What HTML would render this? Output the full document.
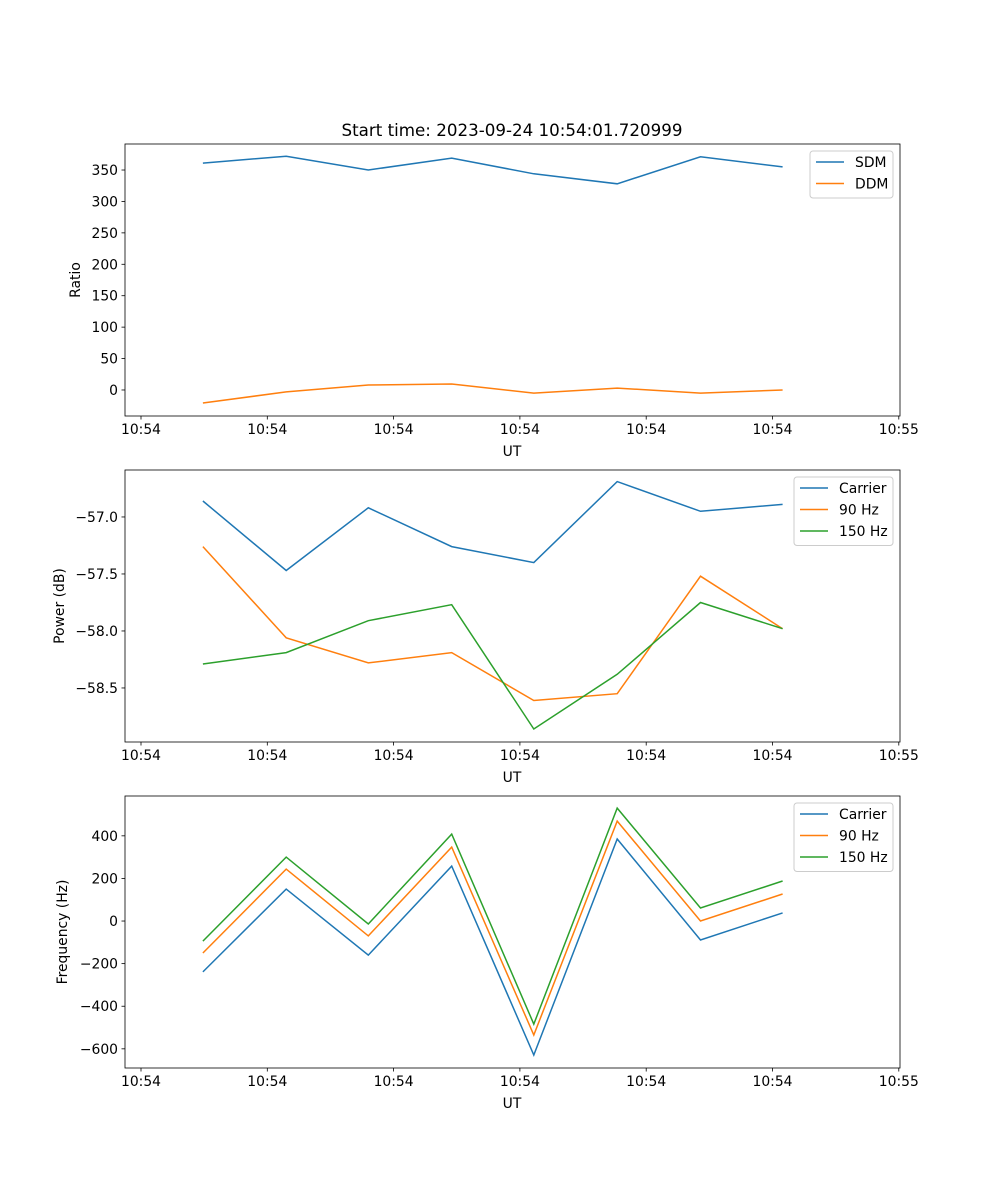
<!DOCTYPE html>
<html><head><meta charset="utf-8"><style>body{margin:0;background:#fff}svg{display:block;font-family:"DejaVu Sans","Liberation Sans",sans-serif}</style></head>
<body>
<svg id="fig" width="1000" height="1200" xmlns="http://www.w3.org/2000/svg"></svg>
<script>
const times = [0.49, 1.15, 1.80, 2.46, 3.11, 3.77, 4.43, 5.08];
const xTickVals = [0, 1, 2, 3, 4, 5, 6];
const xTickLabels = ["10:54","10:54","10:54","10:54","10:54","10:54","10:55"];
const sdm = [361, 372, 350, 369, 344, 328, 371, 355];
const ddm = [-20.7, -3, 8, 9.5, -5, 3, -5, 0];
const powCarrier = [-56.86, -57.47, -56.92, -57.26, -57.40, -56.69, -56.95, -56.89];
const pow90 = [-57.26, -58.06, -58.28, -58.19, -58.61, -58.55, -57.52, -57.98];
const pow150 = [-58.29, -58.19, -57.91, -57.77, -58.86, -58.38, -57.75, -57.98];
const freqCarrier = [-239, 150, -160, 258, -629, 385, -89, 38];
const freq90 = [-150, 244, -70, 347, -535, 469, 0, 127];
const freq150 = [-94, 300, -14, 408, -484, 530, 61, 188];
const ratioTicks = [0, 50, 100, 150, 200, 250, 300, 350];
const powTicks = [-58.5, -58.0, -57.5, -57.0];
const freqTicks = [-600, -400, -200, 0, 200, 400];

const NS = "http://www.w3.org/2000/svg";
const svg = document.getElementById('fig');
function mk(tag, attrs, parent, name) {
  const e = document.createElementNS(NS, tag);
  for (const k in attrs) e.setAttribute(k, attrs[k]);
  
  
  (parent || svg).appendChild(e);
  return e;
}
const L = 125, R = 900;
const xs = v => 141 + v * 126.3;
const C = ['#1f77b4', '#ff7f0e', '#2ca02c'];

function panel(top, bottom, ymin, ymax, yticks, yfmt, ylabel, series, names, legend, pname) {
  const g = mk('g', {}, svg, pname);
  const ys = v => bottom - (v - ymin) / (ymax - ymin) * (bottom - top);
  series.forEach((s, i) => {
    const d = s.map((v, j) => (j ? 'L' : 'M') + xs(times[j]).toFixed(1) + ',' + ys(v).toFixed(1)).join(' ');
    mk('path', {d, fill: 'none', stroke: C[i], 'stroke-width': 1.5}, g, names[i].toLowerCase().replace(/\s/g, '-') + '-line');
  });
  mk('rect', {x: L, y: top, width: R - L, height: bottom - top, fill: 'none', stroke: '#000', 'stroke-width': 0.8}, g, 'axes-frame');
  xTickVals.forEach((v, i) => {
    const x = xs(v);
    mk('line', {x1: x, x2: x, y1: bottom, y2: bottom + 3.5, stroke: '#000', 'stroke-width': 0.8}, g, 'x-tick');
    const t = mk('text', {x, y: bottom + 18, 'font-size': 13.9, 'text-anchor': 'middle'}, g, 'x-tick-label');
    t.textContent = xTickLabels[i];
  });
  yticks.forEach(v => {
    const y = ys(v);
    mk('line', {x1: L - 3.5, x2: L, y1: y, y2: y, stroke: '#000', 'stroke-width': 0.8}, g, 'y-tick');
    const t = mk('text', {x: L - 7, y: y + 5, 'font-size': 13.9, 'text-anchor': 'end'}, g, 'y-tick-label');
    t.textContent = yfmt(v);
  });
  const xl = mk('text', {x: 512, y: bottom + 40, 'font-size': 13.9, 'text-anchor': 'middle'}, g, 'x-axis-title');
  xl.textContent = 'UT';
  const yl = mk('text', {x: legend.yl, y: (top + bottom) / 2, 'font-size': 13.9, 'text-anchor': 'middle', transform: `rotate(-90 ${legend.yl} ${(top + bottom) / 2})`}, g, 'y-axis-title');
  yl.textContent = ylabel;
  const lg = mk('g', {}, g, 'legend');
  mk('rect', {x: legend.x, y: top + 7, width: 893 - legend.x, height: names.length * 21.5 + 4, rx: 3, fill: '#fff', stroke: '#ccc', 'fill-opacity': 0.8}, lg, 'legend-box');
  names.forEach((n, i) => {
    const y = top + 18 + i * 21.5;
    mk('line', {x1: legend.x + 6, x2: legend.x + 34, y1: y, y2: y, stroke: C[i], 'stroke-width': 1.5}, lg, 'legend-swatch');
    const t = mk('text', {x: legend.x + 45, y: y + 5, 'font-size': 13.9}, lg, 'legend-entry');
    t.textContent = n;
  });
}
const m = v => String(v).replace('-', '\u2212');
const title = mk('text', {x: 512, y: 136, 'font-size': 16.7, 'text-anchor': 'middle'}, svg, 'chart-title');
title.textContent = 'Start time: 2023-09-24 10:54:01.720999';
panel(144, 416, -41.4, 391.4, ratioTicks, v => m(v), 'Ratio', [sdm, ddm], ['SDM', 'DDM'], {x: 810, yl: 80}, 'ratio-panel');
panel(470, 742, -58.974, -56.588, powTicks, v => m(v.toFixed(1)), 'Power (dB)', [powCarrier, pow90, pow150], ['Carrier', '90 Hz', '150 Hz'], {x: 794, yl: 64}, 'power-panel');
panel(796, 1068, -690, 587, freqTicks, v => m(v), 'Frequency (Hz)', [freqCarrier, freq90, freq150], ['Carrier', '90 Hz', '150 Hz'], {x: 794, yl: 67}, 'frequency-panel');
</script>
</body></html>
